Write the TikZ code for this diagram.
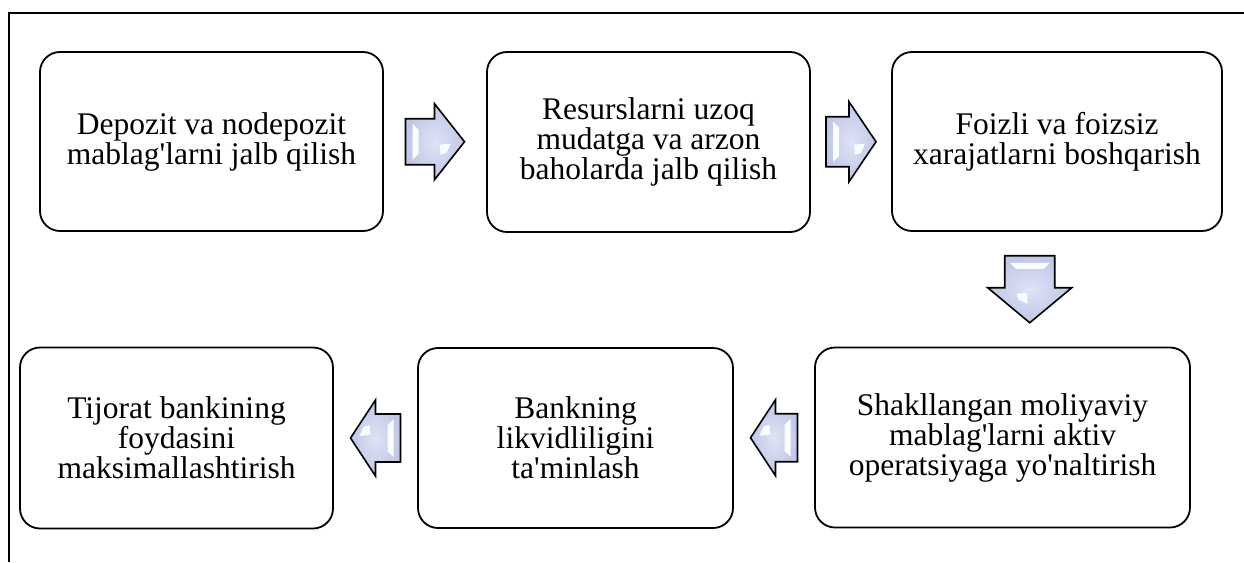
\documentclass[tikz,border=0pt]{standalone}
\usepackage{fontspec}
\setmainfont{Liberation Serif}
\usetikzlibrary{calc}

\definecolor{arrowfill}{RGB}{192,199,230}
\definecolor{arrowlight}{RGB}{222,227,245}

\tikzset{
  stage/.style={draw=black, line width=1.8pt, rounded corners=20pt,
    align=center, inner sep=0pt,
    font=\fontsize{31.5}{30}\selectfont},
  arrowbody/.style={draw=black, line width=1.6pt, line join=miter,
    inner color=arrowlight, outer color=arrowfill},
  arrowshine/.style={fill=white, draw=none, opacity=0.95},
  frame/.style={line width=2.4pt, line join=miter}
}

\newcommand\apos{\textquotesingle}

% block arrow: #1 centre, #2 rotation, #3 tail length, #4 head length,
% #5 tail half-width, #6 head half-width (drawn pointing right before rotation)
\newcommand\blockarrow[6]{%
  \begin{scope}[shift={#1}, rotate=#2, xshift={(#3-#4)/2*1pt}]
    \path[arrowbody] (-#3,-#5) -- (0,-#5) -- (0,-#6) -- (#4,0)
      -- (0,#6) -- (0,#5) -- (-#3,#5) -- cycle;
    % bevel highlight along the back of the tail
    \path[arrowshine] (-#3+7,-#5+5) -- (-#3+13,-#5+11) -- (-#3+13,#5-11)
      -- (-#3+7,#5-5) -- cycle;
    % bevel highlight inside the head
    \path[arrowshine] (5,-3) -- (16,-2) -- (12,-11) -- (6,-13) -- cycle;
  \end{scope}}

\begin{document}
\begin{tikzpicture}[x=1pt,y=1pt]
  \useasboundingbox (0,0) rectangle (1244,-562);

  % outer frame (top and left sides)
  \draw[frame] (1244,-13) -- (9,-13) -- (9,-562);

  % upper row
  \node[stage, minimum width=343pt, minimum height=179pt] (b1) at (211.5,-141.5)
    {Depozit va nodepozit\\mablag\apos larni jalb qilish};
  \node[stage, minimum width=323pt, minimum height=180pt] (b2) at (648.5,-142)
    {Resurslarni uzoq\\mudatga va arzon\\baholarda jalb qilish};
  \node[stage, minimum width=330pt, minimum height=179pt] (b3) at (1057,-141.5)
    {Foizli va foizsiz\\xarajatlarni boshqarish};

  % lower row
  \node[stage, minimum width=375pt, minimum height=180pt] (b6) at (1002.5,-437.5)
    {Shakllangan moliyaviy\\mablag\apos larni aktiv\\operatsiyaga yo\apos naltirish};
  \node[stage, minimum width=315pt, minimum height=180pt] (b5) at (575.5,-438)
    {Bankning\\likvidliligini\\ta\apos minlash};
  \node[stage, minimum width=313pt, minimum height=181pt] (b4) at (176.5,-438)
    {Tijorat bankining\\foydasini\\maksimallashtirish};

  % block arrows between the stages
  \blockarrow{($(b1.east)!0.5!(b2.west)$)}{0}{29}{30}{23}{38}
  \blockarrow{($(b2.east)!0.5!(b3.west)$)}{0}{23}{27}{25}{40}
  \blockarrow{($(b3.south)!0.5!(b6.north)$)}{-90}{32}{35}{25}{42}
  \blockarrow{($(b6.west)!0.5!(b5.east)$)}{180}{22}{25}{24}{38}
  \blockarrow{($(b5.west)!0.5!(b4.east)$)}{180}{25}{25}{24}{38}
\end{tikzpicture}
\end{document}
